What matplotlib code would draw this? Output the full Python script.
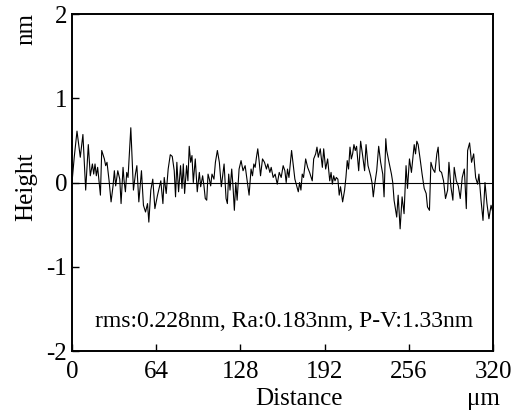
import matplotlib

matplotlib.use("Agg")
import matplotlib.pyplot as plt

plt.rcParams["font.family"] = ["Liberation Serif", "DejaVu Serif"]
plt.rcParams["axes.unicode_minus"] = False

# Line profile (distance in um, height in nm)
distance_um = [
    0.0, 1.7, 3.8, 6.3, 8.3, 10.4, 12.4, 13.9, 15.5, 16.5,
    17.5, 18.5, 19.5, 20.5, 21.6, 22.6, 24.6, 25.6, 26.6, 28.2,
    29.7, 31.2, 32.2, 33.2, 34.8, 36.3, 37.3, 38.8,
    39.6, 40.6, 41.6, 42.6, 44.7, 46.7, 48.2, 49.3, 50.8, 52.8,
    54.3, 55.9, 57.4, 58.4, 59.9, 61.4, 63.0, 65.0, 66.5, 67.5,
    69.1, 70.1, 71.6, 73.1, 74.7, 76.2, 77.7, 78.7, 79.7,
    81.0, 82.5, 83.6, 84.6, 85.6, 87.1, 88.1, 89.1, 90.2, 91.2,
    92.2, 93.7, 95.2, 96.8, 97.8, 99.3, 100.3, 101.3, 102.4, 103.4,
    104.4, 105.4, 106.4, 107.9, 109.0, 110.5, 112.0, 113.5, 115.6, 117.1,
    118.1, 119.1, 120.1,
    121.4, 122.4, 123.4, 124.5, 125.5, 127.0, 128.5, 130.0, 131.6, 133.1,
    134.6, 136.1, 137.2, 138.2, 139.2, 140.2, 141.2, 142.2, 143.3, 144.8,
    146.3, 147.8, 148.8, 150.4, 151.4, 152.9, 154.4, 156.0, 157.5, 159.0,
    160.5,
    161.8, 162.8, 163.8, 164.9, 165.9, 166.9, 167.9, 169.4, 171.0, 172.0,
    173.0, 174.0, 175.0, 176.0, 177.6, 179.1, 180.6, 182.6, 183.7, 185.2,
    186.2, 187.2, 188.7, 190.3, 191.3, 192.8, 194.3, 195.9, 196.9, 197.9,
    198.9, 199.9, 200.9,
    202.1, 203.1, 204.1, 205.7, 207.2, 208.2, 209.2, 210.2, 211.3, 212.3,
    213.3, 214.3, 215.3, 216.3, 217.9, 219.4, 220.9, 222.4, 223.5, 225.0,
    226.0, 227.0, 228.0, 229.0, 230.1, 231.6, 233.1, 234.6, 236.2, 237.2,
    238.5,
    239.2, 240.7, 242.8, 243.8, 244.8, 246.8, 247.9, 249.4, 250.9, 252.4,
    253.9, 255.0, 256.5, 258.0, 260.1, 261.1, 262.1, 263.1, 264.6, 266.1,
    267.7, 269.2, 270.2, 271.7, 272.8, 274.3, 275.8, 277.3, 278.3, 279.4,
    280.9, 282.4, 283.9, 285.5, 286.5, 288.0, 289.5, 290.5, 292.1, 293.6,
    295.1, 296.6, 298.2, 299.7, 300.7, 302.2, 303.7, 305.3, 306.8, 308.3,
    309.3, 310.9, 312.4, 313.9, 315.4, 316.9, 318.5, 319.5,
]
height_nm = [
    0.00, 0.30, 0.61, 0.30, 0.57, -0.09, 0.45, 0.08, 0.22, 0.10,
    0.22, 0.08, 0.18, 0.02, -0.15, 0.38, 0.28, 0.20, 0.24, 0.02,
    -0.23, -0.04, 0.14, -0.04, 0.14, 0.04, -0.25, 0.18,
    0.02, -0.11, 0.12, 0.06, 0.65, -0.09, 0.10, 0.20, -0.23, 0.14,
    -0.27, -0.35, -0.25, -0.47, -0.09, 0.04, -0.31, -0.15, -0.05, 0.02,
    -0.25, 0.06, -0.13, 0.16, 0.33, 0.31, 0.14, -0.17, 0.24,
    -0.11, 0.20, -0.07, 0.22, -0.13, 0.20, 0.02, 0.43, 0.24, 0.32,
    0.00, 0.28, -0.11, 0.12, -0.05, 0.08, -0.04, -0.19, -0.21, 0.10,
    0.04, -0.04, 0.10, 0.04, 0.24, 0.38, 0.24, -0.05, 0.22, -0.19,
    -0.25, 0.10, -0.09,
    0.16, -0.05, -0.33, 0.00, -0.21, 0.16, 0.26, 0.14, 0.20, 0.02,
    -0.15, 0.16, 0.08, 0.22, 0.18, 0.30, 0.40, 0.26, 0.08, 0.28,
    0.24, 0.16, 0.22, 0.12, 0.18, 0.06, 0.10, -0.02, 0.12, 0.06,
    0.20,
    0.14, 0.00, 0.16, 0.06, 0.22, 0.38, 0.24, 0.04, -0.05, -0.11,
    0.00, -0.09, 0.10, 0.06, 0.28, 0.18, 0.12, 0.02, 0.28, 0.34,
    0.42, 0.30, 0.40, 0.18, 0.40, 0.16, 0.28, 0.02, 0.12, -0.02,
    0.08, 0.02, 0.06,
    0.04, -0.15, -0.05, -0.23, -0.09, 0.06, 0.26, 0.16, 0.42, 0.28,
    0.34, 0.45, 0.38, 0.43, 0.14, 0.49, 0.32, 0.14, 0.45, 0.20,
    0.14, 0.08, 0.00, -0.17, -0.02, 0.14, 0.43, 0.24, 0.10, -0.17,
    0.52,
    0.38, 0.26, 0.10, 0.00, -0.21, -0.41, -0.15, -0.55, -0.17, -0.37,
    0.20, -0.07, 0.28, 0.12, 0.45, 0.34, 0.49, 0.45, 0.28, 0.10,
    -0.07, -0.13, -0.29, -0.33, 0.24, 0.16, 0.12, 0.34, 0.42, 0.14,
    0.12, 0.02, -0.19, -0.09, 0.24, -0.05, -0.21, 0.18, 0.02, -0.04,
    -0.19, 0.06, 0.16, -0.31, 0.38, 0.47, 0.24, 0.34, 0.06, -0.02,
    0.10, -0.21, -0.45, 0.00, -0.25, -0.43, -0.27, -0.33,
]

x_ticks = [0, 64, 128, 192, 256, 320]
y_ticks = [-2, -1, 0, 1, 2]
stats_text = "rms:0.228nm, Ra:0.183nm, P-V:1.33nm"

fig = plt.figure(figsize=(5.15, 4.12), dpi=100)
ax = fig.add_axes([0.1398, 0.148, 0.8175, 0.818])

ax.axhline(0.0, color="black", linewidth=0.8)
ax.plot(distance_um, height_nm, color="black", linewidth=0.8)

ax.set_xlim(0, 320)
ax.set_ylim(-2, 2)
ax.set_xticks(x_ticks)
ax.set_yticks(y_ticks)
ax.tick_params(axis="both", direction="in", length=5, width=1, labelsize=18, top=False, right=False)
ax.tick_params(axis="x", pad=7)
ax.tick_params(axis="y", pad=3.5)
for s in ax.spines.values():
    s.set_linewidth(1.4)

ax.text(0.504, 0.071, stats_text, transform=ax.transAxes, ha="center", va="baseline", fontsize=17)

fig.text(299 / 515, 1 - 405 / 412, "Distance", ha="center", va="baseline", fontsize=18)
fig.text(483 / 515, 1 - 405 / 412, "\u03bcm", ha="center", va="baseline", fontsize=18)
fig.text(26 / 515, 1 - 187 / 412, "Height", ha="center", va="center", rotation=90, fontsize=18)
fig.text(26 / 515, 1 - 29 / 412, "nm", ha="center", va="center", rotation=90, fontsize=18)

fig.savefig("out.png", dpi=100)
